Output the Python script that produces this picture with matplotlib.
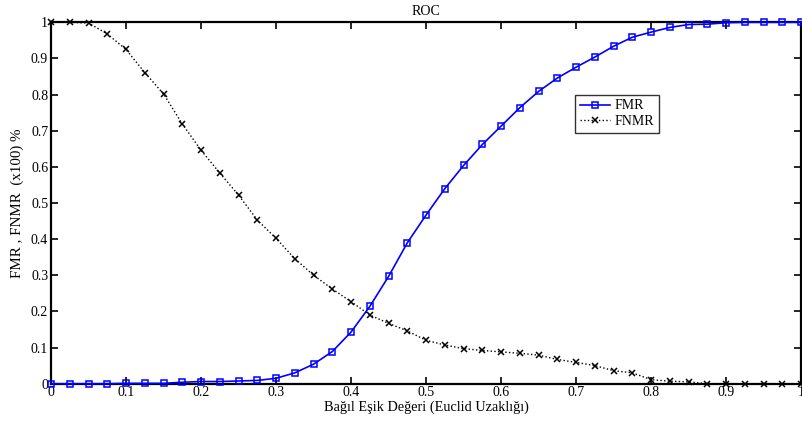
import matplotlib.pyplot as plt
import numpy as np

plt.rcParams['font.family'] = ['Liberation Serif', 'DejaVu Serif']

# threshold values (relative Euclid distance)
esik = np.round(np.arange(0, 1.0001, 0.025), 3)

fmr = [0.0, 0.0, 0.0, 0.0, 0.001, 0.001, 0.001, 0.004, 0.006, 0.006,
       0.0075, 0.009, 0.015, 0.030, 0.054, 0.089, 0.143, 0.214, 0.297, 0.390,
       0.467, 0.540, 0.604, 0.662, 0.713, 0.764, 0.809, 0.846, 0.876, 0.904,
       0.934, 0.959, 0.973, 0.986, 0.994, 0.995, 0.999, 1.0, 1.0, 1.0, 1.0]

fnmr = [1.0, 1.0, 0.998, 0.968, 0.925, 0.861, 0.802, 0.719, 0.646, 0.583,
        0.522, 0.453, 0.402, 0.346, 0.300, 0.262, 0.227, 0.190, 0.167, 0.146,
        0.120, 0.107, 0.097, 0.092, 0.088, 0.084, 0.079, 0.067, 0.059, 0.050,
        0.036, 0.030, 0.011, 0.007, 0.005, 0.0, 0.0, 0.0, 0.0, 0.0, 0.0]

xticks = [0, 0.1, 0.2, 0.3, 0.4, 0.5, 0.6, 0.7, 0.8, 0.9, 1]
xticklabels = ['0', '0.1', '0.2', '0.3', '0.4', '0.5', '0.6', '0.7', '0.8', '0.9', '1']
yticks = [0, 0.1, 0.2, 0.3, 0.4, 0.5, 0.6, 0.7, 0.8, 0.9, 1]
yticklabels = ['0', '0.1', '0.2', '0.3', '0.4', '0.5', '0.6', '0.7', '0.8', '0.9', '1']

fig = plt.figure(figsize=(8.02, 4.30), dpi=100)
ax = fig.add_axes([0.0636, 0.1077, 0.9354, 0.8403])

ax.plot(esik, fmr, color='blue', lw=1.2, marker='s', markersize=4.5,
        markerfacecolor='none', markeredgecolor='blue', markeredgewidth=1.1,
        label='FMR', clip_on=False, zorder=3)
ax.plot(esik, fnmr, color='black', lw=1.0, ls=':', marker='x', markersize=4.5,
        markeredgewidth=1.1, label='FNMR', clip_on=False, zorder=3)

ax.set_xlim(0, 1)
ax.set_ylim(0, 1)
ax.set_xticks(xticks)
ax.set_xticklabels(xticklabels)
ax.set_yticks(yticks)
ax.set_yticklabels(yticklabels)
ax.tick_params(direction='in', length=5, width=1.2, top=True, right=True,
               labelsize=10, pad=2)
for s in ax.spines.values():
    s.set_linewidth(1.6)

ax.set_title('ROC', fontsize=10, pad=5)
ax.set_xlabel('Bağıl Eşik Değeri (Euclid Uzaklığı)', fontsize=10.3, labelpad=1)
ax.set_ylabel('FMR , FNMR  (x100) %', fontsize=10.8, labelpad=5)

leg = ax.legend(loc='upper left', bbox_to_anchor=(0.698, 0.80), fontsize=10,
                frameon=True, fancybox=False, edgecolor='black',
                handlelength=2.2, handletextpad=0.3, borderpad=0.35,
                labelspacing=0.2, borderaxespad=0)
leg.get_frame().set_linewidth(1.0)

fig.savefig('out.png', dpi=100)
